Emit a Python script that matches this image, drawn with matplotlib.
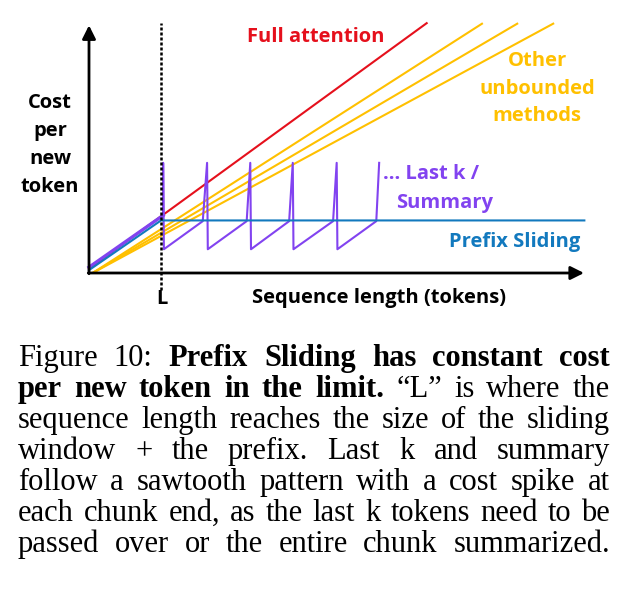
import matplotlib
matplotlib.use('Agg')
import matplotlib.pyplot as plt

# Rozmiar obrazka w pikselach
W, H = 628, 589

# Dane (x w jednostkach L, y w tej samej skali)
full_x = [0.0, 4.69]
full_y = [0.06, 3.47]

other_ends = [5.47, 5.96, 6.46]
other_start = 0.05
other_top = 3.47

prefix_x = [0.0, 1.0, 6.88]
prefix_y = [0.04, 0.73, 0.73]

lastk_x = [0.0, 1.03, 1.03, 1.04, 1.58, 1.64, 1.65, 2.19, 2.24, 2.25,
           2.78, 2.83, 2.84, 3.39, 3.44, 3.45, 3.99, 4.03]
lastk_y = [0.08, 0.80, 1.53, 0.33, 0.72, 1.53, 0.33, 0.72, 1.53, 0.33,
           0.72, 1.53, 0.33, 0.72, 1.53, 0.33, 0.72, 1.53]

L_pos = 1.0

# Podpis pod wykresem (slowo, pogrubione)
caption_lines = [
    [("Figure", False), ("10:", False), ("Prefix", True), ("Sliding", True),
     ("has", True), ("constant", True), ("cost", True)],
    [("per", True), ("new", True), ("token", True), ("in", True), ("the", True),
     ("limit.", True), ("\u201cL\u201d", False), ("is", False), ("where", False), ("the", False)],
    [(w, False) for w in "sequence length reaches the size of the sliding".split()],
    [(w, False) for w in "window + the prefix. Last k and summary".split()],
    [(w, False) for w in "follow a sawtooth pattern with a cost spike at".split()],
    [(w, False) for w in "each chunk end, as the last k tokens need to be".split()],
    [(w, False) for w in "passed over or the entire chunk summarized.".split()],
]
caption_baselines = [366, 397, 428, 459, 490, 521, 552]

RED = '#E5101C'
YELLOW = '#FFC000'
PURPLE = '#8243F0'
BLUE = '#1279BE'
SANS = 'Open Sans'

fig = plt.figure(figsize=(W / 100, H / 100), dpi=100)
ax = fig.add_axes([0, 0, 1, 1])
ax.set_xlim(-89 / 72, (W - 89) / 72)
ax.set_ylim((273 - H) / 72, 273 / 72)
ax.axis('off')


def P(px, py):
    # piksele -> wspolrzedne danych
    return (px - 89) / 72, (273 - py) / 72


# Linie
for xe in other_ends:
    ax.plot([other_start, xe], [0.0, other_top], color=YELLOW, lw=1.5, solid_capstyle='butt')
ax.plot(full_x, full_y, color=RED, lw=1.5)
ax.plot(lastk_x[:2], lastk_y[:2], color=PURPLE, lw=2.4)
ax.plot(lastk_x[1:], lastk_y[1:], color=PURPLE, lw=1.5)
ax.plot(prefix_x, prefix_y, color=BLUE, lw=1.5)

# Osie ze strzalkami
arrow = dict(arrowstyle='-|>', lw=2, color='black', mutation_scale=20, shrinkA=0, shrinkB=0)
ax.annotate('', xy=(6.875, 0), xytext=(-0.01, 0), arrowprops=arrow)
ax.annotate('', xy=(0, 3.44), xytext=(0, -0.01), arrowprops=arrow)

# Przerywana linia L
ax.plot([L_pos, L_pos], [-0.24, 3.47], color='black', lw=1.8, ls=(0, (1.2, 0.8)), zorder=5)

# Etykiety
lab = dict(family=SANS, fontweight='bold', fontsize=14.5, ha='center', va='center')
ax.text(*P(316, 37), 'Full attention', color=RED, **lab)
ax.text(*P(537, 89), 'Other\nunbounded\nmethods', color=YELLOW, linespacing=1.5, **lab)
ax.text(*P(431, 174), '... Last k /', color=PURPLE, **lab)
ax.text(*P(445, 203), 'Summary', color=PURPLE, **lab)
ax.text(*P(515, 242), 'Prefix Sliding', color=BLUE, **lab)
ax.text(*P(50, 145), 'Cost\nper\nnew\ntoken', color='black', linespacing=1.55, **lab)
ax.text(*P(162, 299), 'L', color='black', **lab)
ax.text(*P(379, 298), 'Sequence length (tokens)', color='black', **lab)

# Podpis wyjustowany do szerokosci
renderer = fig.canvas.get_renderer()
left, right = 18, 610
for words, base in zip(caption_lines, caption_baselines):
    texts = [fig.text(0, 1 - base / H, w, family='Liberation Serif', fontsize=22,
                      fontweight='bold' if b else 'normal', va='baseline', ha='left')
             for w, b in words]
    widths = [t.get_window_extent(renderer).width for t in texts]
    gap = (right - left - sum(widths)) / (len(texts) - 1)
    x = left
    for t, w in zip(texts, widths):
        t.set_x(x / W)
        x += w + gap

fig.savefig('out.png', dpi=100)
